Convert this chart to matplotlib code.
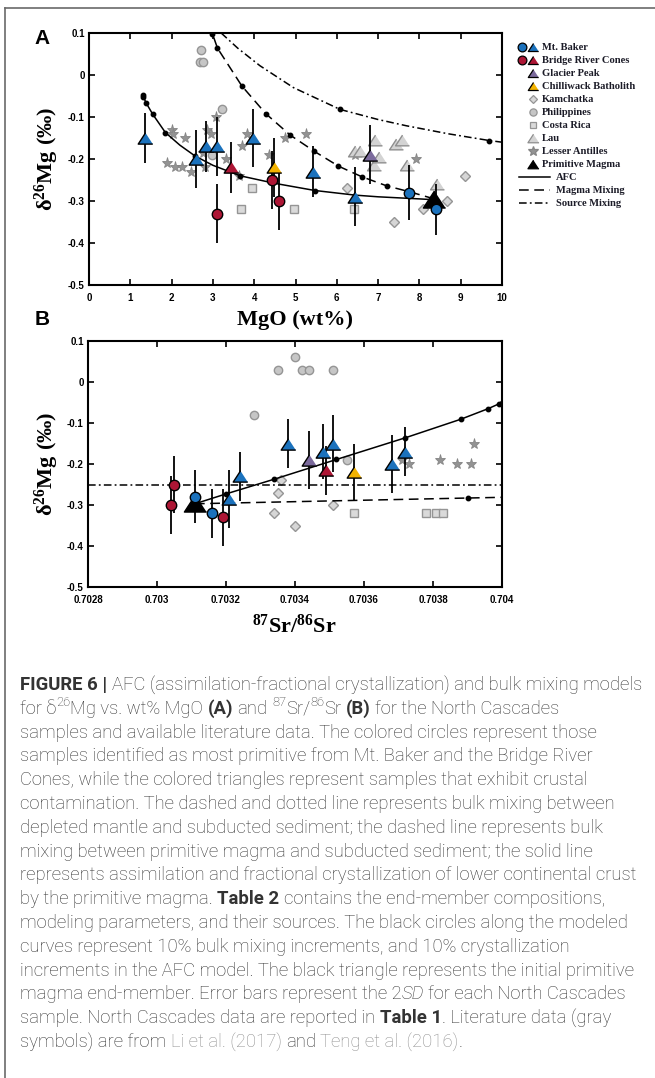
import matplotlib
matplotlib.use('Agg')
import matplotlib.pyplot as plt
from matplotlib.font_manager import FontProperties

plt.rcParams['axes.unicode_minus'] = False
plt.rcParams['mathtext.fontset'] = 'custom'
plt.rcParams['mathtext.rm'] = 'Liberation Serif:bold'
plt.rcParams['mathtext.bf'] = 'Liberation Serif:bold'
plt.rcParams['mathtext.it'] = 'Liberation Serif:bold'
plt.rcParams['lines.scale_dashes'] = False

# ---------------- DATA: panel A (MgO wt%, d26Mg) ----------------
mb_tri_mgo = [1.36, 2.58, 2.84, 3.09, 3.96, 5.42, 6.44]
mb_tri_d = [-0.15, -0.20, -0.17, -0.17, -0.15, -0.23, -0.29]
mb_tri_err = [0.06, 0.07, 0.06, 0.07, 0.07, 0.06, 0.07]
mb_cir_mgo = [7.76, 8.39]
mb_cir_d = [-0.28, -0.32]
mb_cir_err = [0.065, 0.06]
brc_tri_mgo = [3.44]
brc_tri_d = [-0.22]
brc_tri_err = [0.06]
brc_cir_mgo = [3.10, 4.44, 4.61]
brc_cir_d = [-0.33, -0.25, -0.30]
brc_cir_err = [0.07, 0.07, 0.07]
gp_mgo = [6.80]
gp_d = [-0.19]
gp_err = [0.07]
cb_mgo = [4.47]
cb_d = [-0.22]
cb_err = [0.07]
pm_mgo = [8.36]
pm_d = [-0.295]

kam_mgo = [6.24, 7.38, 8.08, 8.68, 9.10]
kam_d = [-0.27, -0.35, -0.32, -0.30, -0.24]
phi_mgo = [2.70, 2.69, 2.77, 3.23, 2.97]
phi_d = [0.06, 0.03, 0.03, -0.08, -0.19]
cr_mgo = [3.94, 3.68, 4.96, 6.42]
cr_d = [-0.27, -0.32, -0.32, -0.32]
lau_mgo = [6.45, 6.55, 6.93, 7.43, 7.57, 6.89, 7.03, 7.69, 8.42]
lau_d = [-0.18, -0.18, -0.155, -0.165, -0.155, -0.215, -0.195, -0.215, -0.26]
la_mgo = [1.88, 2.08, 2.26, 2.48, 2.80, 3.31, 3.63, 2.00, 2.03, 2.32, 2.85,
          2.96, 3.07, 3.82, 3.70, 4.37, 4.74, 5.26, 6.44, 7.92, 2.76]
la_d = [-0.21, -0.22, -0.22, -0.23, -0.22, -0.20, -0.24, -0.13, -0.14, -0.15, -0.13,
        -0.14, -0.10, -0.14, -0.17, -0.19, -0.15, -0.14, -0.19, -0.20, -0.186]

afc_a_mgo = [8.36, 8.0, 7.0, 6.44, 5.47, 4.5, 3.66, 3.0, 2.57, 2.2, 1.85, 1.54, 1.38, 1.31]
afc_a_d = [-0.297, -0.295, -0.290, -0.286, -0.275, -0.258, -0.240, -0.215, -0.193,
           -0.167, -0.137, -0.093, -0.066, -0.050]
afc_a_dot_mgo = [5.47, 3.66, 2.57, 1.85, 1.54, 1.38, 1.31, 1.30]
afc_a_dot_d = [-0.275, -0.240, -0.193, -0.137, -0.093, -0.066, -0.052, -0.048]
mm_a_mgo = [8.36, 7.76, 7.21, 6.60, 6.04, 5.46, 4.87, 4.28, 3.70, 3.11, 2.99, 2.90]
mm_a_d = [-0.295, -0.278, -0.264, -0.242, -0.217, -0.182, -0.143, -0.092, -0.026,
          0.064, 0.098, 0.12]
mm_a_dot_mgo = [7.76, 7.21, 6.60, 6.04, 5.46, 4.87, 4.28, 3.70, 3.11, 2.99]
mm_a_dot_d = [-0.278, -0.264, -0.242, -0.217, -0.182, -0.143, -0.092, -0.026, 0.064, 0.098]
sm_a_mgo = [3.2, 3.6, 4.14, 4.95, 6.08, 7.0, 7.69, 8.7, 9.69, 10.0]
sm_a_d = [0.100, 0.064, 0.022, -0.030, -0.082, -0.106, -0.121, -0.140, -0.156, -0.160]
sm_a_dot_mgo = [6.08, 9.69]
sm_a_dot_d = [-0.082, -0.156]

# ---------------- DATA: panel B (87Sr/86Sr, d26Mg) ----------------
mb_tri_sr = [0.70338, 0.70348, 0.70351, 0.70324, 0.70321, 0.70368, 0.70372]
mb_tri_d_b = [-0.15, -0.17, -0.15, -0.23, -0.285, -0.20, -0.17]
mb_tri_err_b = [0.06, 0.067, 0.07, 0.06, 0.07, 0.07, 0.06]
mb_cir_sr = [0.70311, 0.70316]
mb_cir_d_b = [-0.28, -0.32]
mb_cir_err_b = [0.065, 0.06]
brc_tri_sr = [0.70349]
brc_tri_d_b = [-0.215]
brc_tri_err_b = [0.06]
brc_cir_sr = [0.70305, 0.70304, 0.70319]
brc_cir_d_b = [-0.25, -0.30, -0.33]
brc_cir_err_b = [0.07, 0.07, 0.07]
gp_sr = [0.70344]
gp_d_b = [-0.19]
gp_err_b = [0.07]
cb_sr = [0.70357]
cb_d_b = [-0.22]
cb_err_b = [0.07]
pm_sr = [0.70311]
pm_d_b = [-0.295]

kam_sr = [0.70336, 0.70335, 0.70334, 0.70340, 0.70351]
kam_d_b = [-0.24, -0.27, -0.32, -0.35, -0.30]
phi_sr = [0.70328, 0.70335, 0.70340, 0.70342, 0.70344, 0.70351, 0.70355]
phi_d_b = [-0.08, 0.03, 0.06, 0.03, 0.03, 0.03, -0.19]
cr_sr = [0.70357, 0.70378, 0.70381, 0.70383]
cr_d_b = [-0.32, -0.32, -0.32, -0.32]
la_sr = [0.70371, 0.70373, 0.70382, 0.70387, 0.70391, 0.70392]
la_d_b = [-0.19, -0.20, -0.19, -0.20, -0.20, -0.15]

afc_b_sr = [0.70311, 0.70320, 0.70334, 0.70352, 0.70372, 0.70388, 0.70396, 0.70400]
afc_b_d = [-0.297, -0.273, -0.237, -0.189, -0.136, -0.091, -0.065, -0.050]
afc_b_dot_sr = [0.70320, 0.70334, 0.70352, 0.70372, 0.70388, 0.70396, 0.70399, 0.70400]
afc_b_dot_d = [-0.273, -0.237, -0.189, -0.136, -0.091, -0.065, -0.053, -0.050]
mm_b_sr = [0.70311, 0.70390, 0.70410]
mm_b_d = [-0.297, -0.283, -0.2795]
mm_b_dot_sr = [0.70390]
mm_b_dot_d = [-0.283]
sm_b_sr = [0.7028, 0.7040]
sm_b_d = [-0.25, -0.25]

a_xticks = list(range(0, 11))
a_xticklabels = [str(v) for v in a_xticks]
yticks = [0.1, 0, -0.1, -0.2, -0.3, -0.4, -0.5]
yticklabels = ['0.1', '0', '-0.1', '-0.2', '-0.3', '-0.4', '-0.5']
b_xticks = [0.7028, 0.7030, 0.7032, 0.7034, 0.7036, 0.7038, 0.7040]
b_xticklabels = ['0.7028', '0.703', '0.7032', '0.7034', '0.7036', '0.7038', '0.704']

legend_labels = ['Mt. Baker', 'Bridge River Cones', 'Glacier Peak', 'Chilliwack Batholith',
                 'Kamchatka', 'Philippines', 'Costa Rica', 'Lau', 'Lesser Antilles',
                 'Primitive Magma', 'AFC', 'Magma Mixing', 'Source Mixing']

# ---------------- STYLE ----------------
BLUE = '#1b72bd'
RED = '#ad1635'
PURPLE = '#7b6a9c'
YELLOW = '#f3b300'
TRI = [(0, 1), (-1.3, -1), (1.3, -1)]
DASH = (0, (7, 4))
DASHDOT = (0, (5.5, 2.3, 1.3, 2.3))

W, H = 655, 1078
fig = plt.figure(figsize=(W / 100, H / 100), dpi=100)


def fx(px):
    return px / W


def fy(py):
    return 1 - py / H


def axes_px(l, t, r, b):
    return fig.add_axes([fx(l), fy(b), (r - l) / W, (b - t) / H])


tick_font = dict(family='Liberation Sans', weight='bold', size=7)


def style_axes(ax, xt, xtl, xlim):
    ax.set_xlim(*xlim)
    ax.set_ylim(-0.5, 0.1)
    ax.set_xticks(xt)
    ax.set_xticklabels(xtl, **tick_font)
    ax.set_yticks(yticks)
    ax.set_yticklabels(yticklabels, **tick_font)
    ax.tick_params(direction='in', top=True, right=True, length=4, width=1.2)
    ax.tick_params(axis='x', pad=6)
    ax.tick_params(axis='y', pad=3)
    for s in ax.spines.values():
        s.set_linewidth(1.5)


def gray_data(ax, kx, ky, px_, py_, cx, cy, sx, sy, lx=None, ly=None):
    ax.plot(sx, sy, ls='none', marker='*', ms=8, mfc='#939393', mec='#858585', mew=0.6, zorder=2)
    if lx is not None:
        ax.plot(lx, ly, ls='none', marker=TRI, ms=10, mfc='#d3d3d3', mec='#8e8e8e', mew=1.0, zorder=2)
    ax.plot(kx, ky, ls='none', marker='D', ms=5.2, mfc='#d6d6d6', mec='#959595', mew=1.0, zorder=2)
    ax.plot(cx, cy, ls='none', marker='s', ms=5.2, mfc='#dadada', mec='#959595', mew=1.0, zorder=2)
    ax.plot(px_, py_, ls='none', marker='o', ms=6, mfc='#c6c6c6', mec='#959595', mew=1.0, zorder=2)


def colored(ax, x, y, e, marker, color, ms, z=6):
    ax.errorbar(x, y, yerr=e, fmt='none', ecolor='black', elinewidth=1.3, capsize=0, zorder=4)
    ax.plot(x, y, ls='none', marker=marker, ms=ms, mfc=color, mec='black', mew=1.0, zorder=z)


def model(ax, x, y, dx, dy, ls):
    ax.plot(x, y, color='black', lw=1.1, ls=ls, zorder=3)
    ax.plot(dx, dy, ls='none', marker='o', ms=3.2, color='black', zorder=3)


# ---------------- PANEL A ----------------
axA = axes_px(89, 33, 502, 285)
style_axes(axA, a_xticks, a_xticklabels, (0, 10))
gray_data(axA, kam_mgo, kam_d, phi_mgo, phi_d, cr_mgo, cr_d, la_mgo, la_d, lau_mgo, lau_d)
model(axA, afc_a_mgo, afc_a_d, afc_a_dot_mgo, afc_a_dot_d, '-')
model(axA, mm_a_mgo, mm_a_d, mm_a_dot_mgo, mm_a_dot_d, DASH)
model(axA, sm_a_mgo, sm_a_d, sm_a_dot_mgo, sm_a_dot_d, DASHDOT)
colored(axA, mb_tri_mgo, mb_tri_d, mb_tri_err, TRI, BLUE, 10.5)
colored(axA, brc_tri_mgo, brc_tri_d, brc_tri_err, TRI, RED, 10.5)
colored(axA, gp_mgo, gp_d, gp_err, TRI, PURPLE, 10.5)
colored(axA, cb_mgo, cb_d, cb_err, TRI, YELLOW, 10.5)
axA.plot(pm_mgo, pm_d, ls='none', marker=TRI, ms=16, mfc='black', mec='black', zorder=5)
colored(axA, mb_cir_mgo, mb_cir_d, mb_cir_err, 'o', BLUE, 7.5, z=7)
colored(axA, brc_cir_mgo, brc_cir_d, brc_cir_err, 'o', RED, 7.5, z=7)

# ---------------- PANEL B ----------------
axB = axes_px(88, 341, 502, 587)
style_axes(axB, b_xticks, b_xticklabels, (0.7028, 0.7040))
gray_data(axB, kam_sr, kam_d_b, phi_sr, phi_d_b, cr_sr, cr_d_b, la_sr, la_d_b)
model(axB, afc_b_sr, afc_b_d, afc_b_dot_sr, afc_b_dot_d, '-')
model(axB, mm_b_sr, mm_b_d, mm_b_dot_sr, mm_b_dot_d, DASH)
axB.plot(sm_b_sr, sm_b_d, color='black', lw=1.1, ls=DASHDOT, zorder=3)
colored(axB, mb_tri_sr, mb_tri_d_b, mb_tri_err_b, TRI, BLUE, 10.5)
colored(axB, brc_tri_sr, brc_tri_d_b, brc_tri_err_b, TRI, RED, 10.5)
colored(axB, gp_sr, gp_d_b, gp_err_b, TRI, PURPLE, 10.5)
colored(axB, cb_sr, cb_d_b, cb_err_b, TRI, YELLOW, 10.5)
axB.plot(pm_sr, pm_d_b, ls='none', marker=TRI, ms=16, mfc='black', mec='black', zorder=5)
colored(axB, mb_cir_sr, mb_cir_d_b, mb_cir_err_b, 'o', BLUE, 7.5, z=7)
colored(axB, brc_cir_sr, brc_cir_d_b, brc_cir_err_b, 'o', RED, 7.5, z=7)

# ---------------- LABELS ----------------
fig.text(fx(42), fy(44), 'A', family='Liberation Sans', weight='bold', size=15, ha='center', va='baseline')
fig.text(fx(42), fy(325), 'B', family='Liberation Sans', weight='bold', size=15, ha='center', va='baseline')
ylab = r'$\mathbf{δ^{26}Mg\ (‰)}$'
fig.text(fx(47), fy(159), ylab, size=16, rotation=90, ha='center', va='center')
fig.text(fx(47), fy(464), ylab, size=16, rotation=90, ha='center', va='center')
fig.text(fx(295), fy(325), 'MgO (wt%)', family='Liberation Serif', weight='bold', size=16,
         ha='center', va='baseline')
fig.text(fx(294), fy(633), r'$\mathbf{^{87}Sr/^{86}Sr}$', size=16, ha='center', va='baseline')

# ---------------- LEGEND (manual) ----------------
ov = fig.add_axes([0, 0, 1, 1])
ov.set_xlim(0, W)
ov.set_ylim(H, 0)
ov.axis('off')
leg_y0, leg_dy = 46.7, 13.0
xc, xt_, xtxt, xtxt2 = 521.5, 532.5, 542, 556
leg_marks = [
    [('o', BLUE, 'black', 6.3, xc), (TRI, BLUE, 'black', 7.5, xt_)],
    [('o', RED, 'black', 6.3, xc), (TRI, RED, 'black', 7.5, xt_)],
    [(TRI, PURPLE, 'black', 7.5, xt_)],
    [(TRI, YELLOW, 'black', 7.5, xt_)],
    [('D', '#d6d6d6', '#959595', 4.3, xt_)],
    [('o', '#c6c6c6', '#959595', 5.2, xt_)],
    [('s', '#dadada', '#959595', 4.3, xt_)],
    [(TRI, '#d3d3d3', '#8e8e8e', 8, xt_)],
    [('*', '#939393', '#858585', 7.5, xt_)],
    [(TRI, 'black', 'black', 8, xt_)],
]
leg_font = dict(family='Liberation Serif', weight='bold', size=7.6, color='#1c1c28')
for i, lab in enumerate(legend_labels):
    yy = leg_y0 + i * leg_dy
    if i < len(leg_marks):
        for m, fc, ec, ms, xx in leg_marks[i]:
            ov.plot([xx], [yy], ls='none', marker=m, ms=ms, mfc=fc, mec=ec, mew=0.9, clip_on=False)
        ov.text(xtxt, yy, lab, ha='left', va='center_baseline', **leg_font)
    else:
        ls = ['-', DASH, DASHDOT][i - len(leg_marks)]
        ov.plot([519, 550], [yy, yy], color='black', lw=1.1, ls=ls, clip_on=False)
        ov.text(xtxt2, yy, lab, ha='left', va='center_baseline', **leg_font)

# frame lines
ov.plot([5, W], [8, 8], color='#6a6a6a', lw=1.2, clip_on=False)
ov.plot([5, 5], [8, H], color='#6a6a6a', lw=1.2, clip_on=False)

# ---------------- CAPTION ----------------
caption = [
    [("FIGURE 6 |", 'b'), (" AFC (assimilation-fractional crystallization) and bulk mixing models", 'n')],
    [("for δ", 'n'), ("26", 'sup'), ("Mg vs. wt% MgO ", 'n'), ("(A)", 'b'), (" and ", 'n'), ("87", 'sup'),
     ("Sr/", 'n'), ("86", 'sup'), ("Sr ", 'n'), ("(B)", 'b'), (" for the North Cascades", 'n')],
    [("samples and available literature data. The colored circles represent those", 'n')],
    [("samples identified as most primitive from Mt. Baker and the Bridge River", 'n')],
    [("Cones, while the colored triangles represent samples that exhibit crustal", 'n')],
    [("contamination. The dashed and dotted line represents bulk mixing between", 'n')],
    [("depleted mantle and subducted sediment; the dashed line represents bulk", 'n')],
    [("mixing between primitive magma and subducted sediment; the solid line", 'n')],
    [("represents assimilation and fractional crystallization of lower continental crust", 'n')],
    [("by the primitive magma. ", 'n'), ("Table 2", 'b'), (" contains the end-member compositions,", 'n')],
    [("modeling parameters, and their sources. The black circles along the modeled", 'n')],
    [("curves represent 10% bulk mixing increments, and 10% crystallization", 'n')],
    [("increments in the AFC model. The black triangle represents the initial primitive", 'n')],
    [("magma end-member. Error bars represent the 2", 'n'), ("SD", 'i'), (" for each North Cascades", 'n')],
    [("sample. North Cascades data are reported in ", 'n'), ("Table 1", 'b'), (". Literature data (gray", 'n')],
    [("symbols) are from ", 'n'), ("Li et al. (2017)", 'link'), (" and ", 'n'), ("Teng et al. (2016)", 'link'),
     (".", 'n')],
]
CAP_FAMILY = 'Roboto'
renderer = fig.canvas.get_renderer()


def seg_props(style, size):
    d = dict(family=CAP_FAMILY, size=size, color='#333333', weight='light', style='normal')
    if style == 'b':
        d['weight'] = 'bold'
    if style == 'i':
        d['style'] = 'italic'
    if style == 'sup':
        d['size'] = size * 0.7
    if style == 'link':
        d['color'] = '#8f8f8f'
    return d


def text_w(s, props):
    fp = FontProperties(family=props['family'], size=props['size'], weight=props['weight'],
                        style=props['style'])
    w1, _, _ = renderer.get_text_width_height_descent('|' + s + '|', fp, ismath=False)
    w0, _, _ = renderer.get_text_width_height_descent('||', fp, ismath=False)
    return w1 - w0


def line_w(segs, size):
    return sum(text_w(s, seg_props(st, size)) for s, st in segs)


base_size = 10.0
cap_size = base_size * 622.0 / line_w(caption[0], base_size)

x0, y0, dy = 20, 690, 23.8
for li, segs in enumerate(caption):
    x = x0
    base = y0 + li * dy
    for s, st in segs:
        p = seg_props(st, cap_size)
        lead = len(s) - len(s.lstrip(' '))
        trail = len(s) - len(s.rstrip(' '))
        core = s.strip(' ')
        sp = text_w(' ', p)
        x += lead * sp
        raise_px = cap_size * 1.389 * 0.42 if st == 'sup' else 0
        fig.text(fx(x), fy(base - raise_px), core, ha='left', va='baseline', **p)
        x += text_w(core, p) + trail * sp

fig.savefig('out.png', dpi=100)
